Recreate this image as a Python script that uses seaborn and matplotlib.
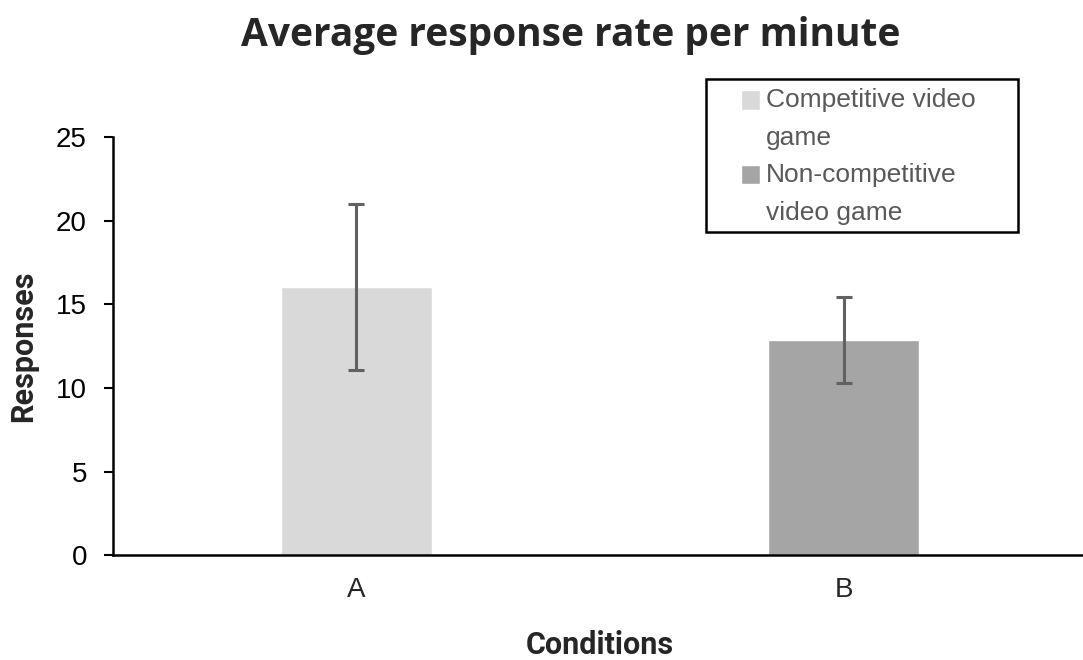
import numpy as np
import pandas as pd
import seaborn as sns
import matplotlib.pyplot as plt
import matplotlib.patches as mpatches
from matplotlib.legend_handler import HandlerPatch

# data
conditions = ["A", "B"]
games = ["Competitive video\ngame", "Non-competitive\nvideo game"]
means = [16.05, 12.85]
errors = [4.95, 2.57]
colors = ["#d9d9d9", "#a5a5a5"]

df = pd.DataFrame({"Conditions": conditions, "Responses": means, "Game": games})

sns.set_style("white")
plt.rcParams['font.family'] = ['Liberation Sans', 'DejaVu Sans']

fig = plt.figure(figsize=(10.83, 6.6), dpi=100)
ax = fig.add_axes([0.104, 0.159, 0.90, 0.633])

sns.barplot(data=df, x="Conditions", y="Responses", hue="Game",
            palette=colors, dodge=False, width=0.31, ax=ax)
ax.errorbar(x=np.arange(len(conditions)), y=means, yerr=errors, fmt="none",
            ecolor="#616161", elinewidth=2.2, capsize=6, capthick=2.2)

ax.set_ylim(0, 25)
ax.set_xlim(-0.5, 1.5)
ax.set_yticks([0, 5, 10, 15, 20, 25])
ax.tick_params(axis="y", labelsize=20, length=6.5, width=1.5, pad=12, direction="out", left=True, colors="black")
ax.tick_params(axis="x", labelsize=20, length=0, pad=16)
for s in ["top", "right"]:
    ax.spines[s].set_visible(False)
for s in ["left", "bottom"]:
    ax.spines[s].set_color("black")
    ax.spines[s].set_linewidth(1.8)

ax.set_xlabel("Conditions", fontsize=22, fontweight="bold", family=["Roboto", "DejaVu Sans"])
ax.xaxis.set_label_coords(0.5, -0.18)
ax.set_ylabel("Responses", fontsize=22, fontweight="bold", family=["Roboto", "DejaVu Sans"])
ax.yaxis.set_label_coords(-0.076, 0.5)
fig.suptitle("Average response rate per minute", fontsize=28, fontweight="bold",
             x=0.527, y=0.946, va="center", family=["Open Sans", "DejaVu Sans"])

# legend: square handle lined up with first line of each label
def square(legend, orig_handle, xdescent, ydescent, width, height, fontsize):
    return mpatches.Rectangle((-xdescent, -ydescent + 0.74 * fontsize), width, height)

hs, ls = ax.get_legend_handles_labels()
hs = [h.patches[0] if hasattr(h, "patches") else h for h in hs]
if ax.get_legend() is not None:
    ax.get_legend().remove()
leg = fig.legend(hs, ls, loc="upper left", bbox_to_anchor=(0.684, 0.866),
                 frameon=False, fontsize=19, labelcolor="#595959",
                 handler_map={mpatches.Patch: HandlerPatch(patch_func=square)},
                 handlelength=0.74, handleheight=0.74, handletextpad=0.22, labelspacing=0.5,
                 borderpad=0, borderaxespad=0)
for t in leg.get_texts():
    t.set_linespacing(1.72)
fig.patches.append(mpatches.Rectangle((0.652, 0.6485), 0.288, 0.2318, transform=fig.transFigure,
                                      fill=False, edgecolor="black", linewidth=1.8))

fig.savefig("out.png", dpi=100)
